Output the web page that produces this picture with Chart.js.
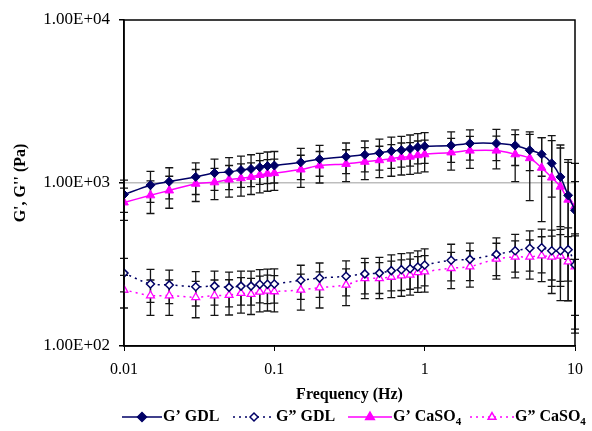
<!DOCTYPE html>
<html>
<head>
<meta charset="utf-8">
<script src="https://cdn.jsdelivr.net/npm/chart.js@4/dist/chart.umd.min.js"></script>
<style>
  body { margin: 0; background: #fff; }
  canvas { display: block; }
</style>
</head>
<body>
<canvas id="grafico" width="592" height="431"></canvas>
<script>
// datos
const frecuencias = [0.01, 0.015, 0.02, 0.03, 0.04, 0.05, 0.06, 0.07, 0.08, 0.09, 0.1,
  0.15, 0.2, 0.3, 0.4, 0.5, 0.6, 0.7, 0.8, 0.9, 1, 1.5, 2, 3, 4, 5, 6, 7, 8, 9, 10];

const gPrimaGDL = [850, 970, 1020, 1090, 1150, 1170, 1200, 1220, 1250, 1270, 1280,
  1340, 1400, 1450, 1490, 1530, 1570, 1590, 1620, 1660, 1680, 1700, 1750, 1750, 1700, 1590, 1500, 1320, 1090, 840, 680];
const errPrimaGDL = [190, 210, 220, 240, 250, 260, 260, 270, 270, 280, 280,
  290, 300, 310, 320, 330, 340, 340, 350, 350, 360, 360, 370, 380, 420, 400, 400, 500, 550, 500, 340];

const gSegGDL = [280, 240, 237, 231, 233, 229, 233, 233, 239, 239, 240,
  253, 261, 268, 277, 280, 290, 294, 298, 305, 314, 336, 340, 365, 384, 398, 401, 384, 384, 390, 314];
const errSegGDL = [65, 55, 55, 55, 55, 55, 55, 55, 55, 57, 57,
  60, 62, 65, 68, 70, 72, 75, 75, 78, 80, 85, 88, 95, 100, 110, 120, 130, 135, 140, 160];

const gPrimaCaSO4 = [760, 840, 900, 990, 1010, 1050, 1070, 1090, 1120, 1140, 1150,
  1210, 1280, 1310, 1350, 1380, 1410, 1440, 1450, 1480, 1500, 1540, 1580, 1580, 1500, 1420, 1240, 1080, 950, 790, 720];
const errPrimaCaSO4 = [170, 190, 200, 220, 220, 230, 240, 240, 250, 250, 250,
  270, 280, 290, 300, 300, 310, 320, 320, 330, 330, 340, 350, 360, 480, 640, 660, 870, 760, 600, 600];

const gSegCaSO4 = [221, 204, 204, 199, 204, 205, 211, 208, 215, 218, 216,
  221, 228, 237, 260, 260, 265, 270, 273, 283, 286, 300, 307, 342, 352, 352, 358, 352, 357, 329, 307];
const errSegCaSO4 = [50, 50, 50, 50, 50, 50, 52, 52, 53, 54, 54,
  55, 57, 60, 65, 65, 67, 68, 68, 70, 72, 75, 77, 85, 90, 95, 110, 120, 125, 140, 180];

const ticksX = [0.01, 0.1, 1, 10];
const ticksY = [100, 1000, 10000];

const NAVY = "#000066";
const MAGENTA = "#ff00ff";
const SERIF = "'Liberation Serif', 'Times New Roman', serif";

function puntos(vals) {
  return frecuencias.map((f, i) => ({ x: f, y: vals[i] }));
}

function etiquetaExp(v) {
  const e = Math.round(Math.log10(v));
  return "1.00E+" + String(e).padStart(2, "0");
}

// barras de error (simetricas en valor)
const barrasError = {
  id: "barrasError",
  beforeDatasetsDraw(chart) {
    const { ctx, chartArea, scales } = chart;
    ctx.save();
    ctx.beginPath();
    ctx.rect(chartArea.left - 6, chartArea.top, chartArea.width + 12, chartArea.height);
    ctx.clip();
    ctx.strokeStyle = "#151515";
    ctx.lineWidth = 1.3;
    chart.data.datasets.forEach(ds => {
      ds.data.forEach((p, i) => {
        const e = ds.errores[i];
        const px = scales.x.getPixelForValue(p.x);
        const arriba = scales.y.getPixelForValue(p.y + e);
        const abajo = scales.y.getPixelForValue(Math.max(p.y - e, 1));
        ctx.beginPath();
        ctx.moveTo(px, arriba); ctx.lineTo(px, abajo);
        ctx.moveTo(px - 4, arriba); ctx.lineTo(px + 4, arriba);
        ctx.moveTo(px - 4, abajo); ctx.lineTo(px + 4, abajo);
        ctx.stroke();
      });
    });
    ctx.restore();
  }
};

// marco, titulos de ejes y leyenda
const decorado = {
  id: "decorado",
  afterDraw(chart) {
    const { ctx, chartArea } = chart;
    ctx.save();
    ctx.strokeStyle = "#000";
    ctx.lineWidth = 1.5;
    ctx.strokeRect(chartArea.left, chartArea.top, chartArea.width, chartArea.height);

    ctx.fillStyle = "#000";
    ctx.font = "bold 16px " + SERIF;
    ctx.textAlign = "center";
    ctx.textBaseline = "middle";
    ctx.fillText("Frequency (Hz)", (chartArea.left + chartArea.right) / 2, 395);

    ctx.save();
    ctx.translate(21, (chartArea.top + chartArea.bottom) / 2);
    ctx.rotate(-Math.PI / 2);
    ctx.fillText("G', G'' (Pa)", 0, 0);
    ctx.restore();

    // leyenda
    const yL = 417;
    chart.data.datasets.forEach((ds, i) => {
      const it = ds.leyenda;
      ctx.save();
      ctx.strokeStyle = ds.borderColor;
      ctx.lineWidth = 1.5;
      ctx.setLineDash(ds.borderDash || []);
      ctx.beginPath();
      ctx.moveTo(it.x0, yL);
      ctx.lineTo(it.x1, yL);
      ctx.stroke();
      ctx.setLineDash([]);
      ctx.fillStyle = ds.pointBackgroundColor;
      ctx.strokeStyle = ds.pointBorderColor;
      Chart.helpers.drawPoint(ctx, {
        pointStyle: ds.pointStyle, radius: ds.pointRadius, rotation: 0,
        borderWidth: ds.pointBorderWidth
      }, (it.x0 + it.x1) / 2, yL);
      ctx.restore();

      ctx.fillStyle = "#000";
      ctx.textAlign = "left";
      ctx.font = "bold 16px " + SERIF;
      ctx.fillText(it.texto, it.x1 + 1, yL);
      if (it.sub) {
        const w = ctx.measureText(it.texto).width;
        ctx.font = "bold 11px " + SERIF;
        ctx.fillText(it.sub, it.x1 + 1 + w, yL + 5);
      }
    });
    ctx.restore();
  }
};

const ctx = document.getElementById("grafico").getContext("2d");
new Chart(ctx, {
  type: "line",
  data: {
    datasets: [
      {
        label: "G’ GDL",
        data: puntos(gPrimaGDL),
        errores: errPrimaGDL,
        borderColor: NAVY,
        borderWidth: 1.5,
        pointStyle: "rectRot",
        pointRadius: 4.5,
        pointBackgroundColor: NAVY,
        pointBorderColor: NAVY,
        pointBorderWidth: 1,
        tension: 0.3,
        leyenda: { x0: 122, x1: 162, texto: "G’ GDL" }
      },
      {
        label: "G” GDL",
        data: puntos(gSegGDL),
        errores: errSegGDL,
        borderColor: NAVY,
        borderWidth: 1.5,
        borderDash: [2, 4],
        pointStyle: "rectRot",
        pointRadius: 4,
        pointBackgroundColor: "#fff",
        pointBorderColor: NAVY,
        pointBorderWidth: 1.5,
        tension: 0.3,
        leyenda: { x0: 233, x1: 275, texto: "G” GDL" }
      },
      {
        label: "G’ CaSO4",
        data: puntos(gPrimaCaSO4),
        errores: errPrimaCaSO4,
        borderColor: MAGENTA,
        borderWidth: 1.5,
        pointStyle: "triangle",
        pointRadius: 5,
        pointBackgroundColor: MAGENTA,
        pointBorderColor: MAGENTA,
        pointBorderWidth: 1,
        tension: 0.3,
        leyenda: { x0: 348, x1: 392, texto: "G’ CaSO", sub: "4" }
      },
      {
        label: "G” CaSO4",
        data: puntos(gSegCaSO4),
        errores: errSegCaSO4,
        borderColor: MAGENTA,
        borderWidth: 1.5,
        borderDash: [2, 4],
        pointStyle: "triangle",
        pointRadius: 4.5,
        pointBackgroundColor: "#fff",
        pointBorderColor: MAGENTA,
        pointBorderWidth: 1.3,
        tension: 0.3,
        leyenda: { x0: 470, x1: 514, texto: "G” CaSO", sub: "4" }
      }
    ]
  },
  options: {
    responsive: false,
    animation: false,
    layout: { padding: { left: 0, top: 20, right: 16, bottom: 0 } },
    plugins: { legend: { display: false }, tooltip: { enabled: false } },
    scales: {
      x: {
        type: "logarithmic",
        min: 0.01,
        max: 10,
        afterFit: s => { s.height = 85; },
        afterBuildTicks: s => { s.ticks = ticksX.map(v => ({ value: v })); },
        border: { display: true, color: "#000", width: 1.5 },
        grid: { drawOnChartArea: false, drawTicks: true, tickLength: 5, tickColor: "#000" },
        ticks: {
          color: "#000",
          padding: 9,
          maxRotation: 0,
          font: { family: SERIF, size: 16 },
          callback: v => String(v)
        }
      },
      y: {
        type: "logarithmic",
        min: 100,
        max: 10000,
        afterFit: s => { s.width = 124; },
        afterBuildTicks: s => { s.ticks = ticksY.map(v => ({ value: v })); },
        border: { display: true, color: "#000", width: 1.5 },
        grid: {
          drawOnChartArea: true,
          drawTicks: true,
          tickLength: 5,
          tickColor: "#000",
          lineWidth: 1.5,
          color: c => (c.tick && c.tick.value === 1000 ? "#bdbdbd" : "rgba(0,0,0,0)")
        },
        ticks: {
          color: "#000",
          padding: 9,
          font: { family: SERIF, size: 17 },
          callback: v => etiquetaExp(v)
        }
      }
    }
  },
  plugins: [barrasError, decorado]
});
</script>
</body>
</html>
